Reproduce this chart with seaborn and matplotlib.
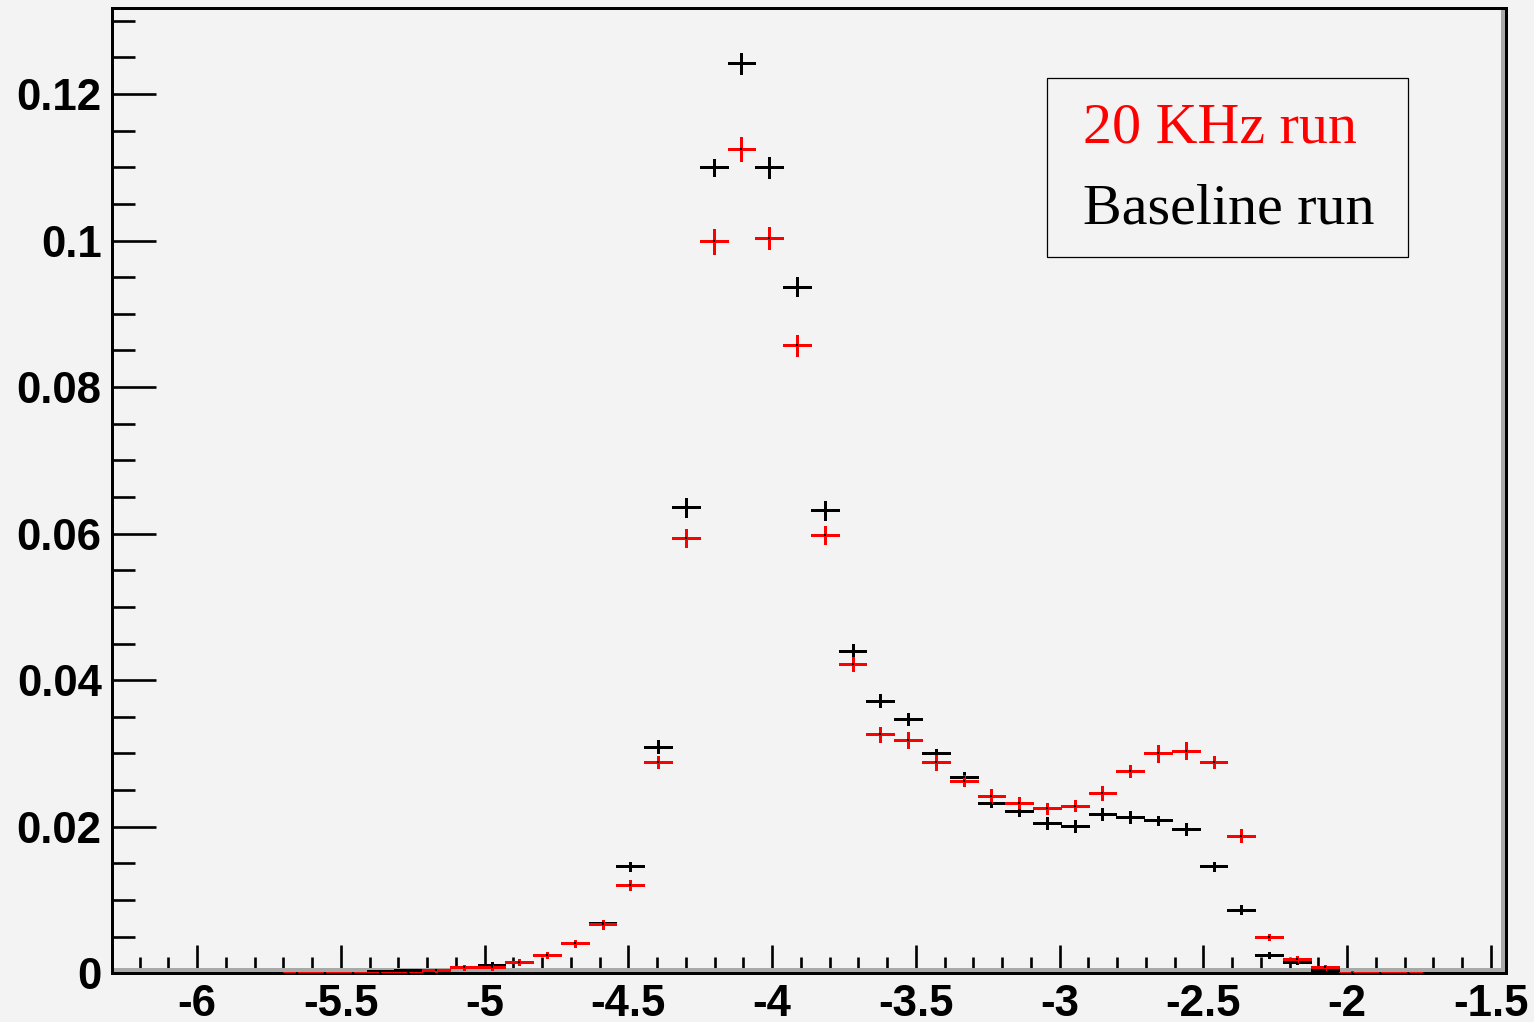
import numpy as np
import pandas as pd
import matplotlib
matplotlib.use("Agg")
import matplotlib.pyplot as plt
from matplotlib.patches import Rectangle
from matplotlib.ticker import MultipleLocator, FixedLocator, FixedFormatter
import seaborn as sns

nan = np.nan

# Histogram binning: 50 equal bins
BIN_LO, BIN_HI, N_BINS = -6.28, -1.45, 50

# Bin contents (normalised) and statistical errors, bins 0..49
baseline_vals = [nan] * 6 + [
    0.0, 0.0, 0.0, 0.0003, 0.0004, 0.0004, 0.0008, 0.0012, 0.0016, 0.0025,
    0.0042, 0.0068, 0.0146, 0.0309, 0.0636, 0.1100, 0.1242, 0.1100, 0.0937, 0.0632,
    0.0440, 0.0372, 0.0347, 0.0300, 0.0268, 0.0233, 0.0221, 0.0205, 0.0201, 0.0217,
    0.0213, 0.0209, 0.0197, 0.0146, 0.0087, 0.0025, 0.0016, 0.0004, 0.0001, 0.0,
    0.0] + [nan] * 3
baseline_errs = [nan] * 6 + [
    0.0, 0.0, 0.0, 0.0002, 0.0002, 0.0002, 0.0002, 0.0003, 0.0003, 0.0003,
    0.0004, 0.0005, 0.0006, 0.0009, 0.0013, 0.0012, 0.0014, 0.0014, 0.0013, 0.0013,
    0.0010, 0.0009, 0.0008, 0.0006, 0.0007, 0.0006, 0.0007, 0.0008, 0.0008, 0.0008,
    0.0008, 0.0006, 0.0008, 0.0006, 0.0006, 0.0004, 0.0003, 0.0002, 0.0001, 0.0,
    0.0] + [nan] * 3

khz20_vals = [nan] * 6 + [
    0.0, 0.0, 0.0, 0.0, 0.0, 0.0004, 0.0008, 0.0008, 0.0016, 0.0025,
    0.0041, 0.0067, 0.0121, 0.0288, 0.0594, 0.0999, 0.1125, 0.1003, 0.0857, 0.0598,
    0.0422, 0.0326, 0.0318, 0.0288, 0.0263, 0.0242, 0.0233, 0.0225, 0.0229, 0.0246,
    0.0276, 0.0300, 0.0304, 0.0288, 0.0188, 0.0049, 0.0020, 0.0008, 0.0, 0.0,
    0.0] + [nan] * 3
khz20_errs = [nan] * 6 + [
    0.0, 0.0, 0.0, 0.0, 0.0, 0.0002, 0.0003, 0.0003, 0.0004, 0.0004,
    0.0005, 0.0006, 0.0007, 0.0008, 0.0012, 0.0017, 0.0017, 0.0015, 0.0014, 0.0012,
    0.0010, 0.0010, 0.0011, 0.0010, 0.0008, 0.0010, 0.0008, 0.0008, 0.0008, 0.0009,
    0.0008, 0.0011, 0.0011, 0.0008, 0.0009, 0.0004, 0.0004, 0.0003, 0.0003, 0.0,
    0.0] + [nan] * 3

x_ticks = [-6, -5.5, -5, -4.5, -4, -3.5, -3, -2.5, -2, -1.5]
x_tick_labels = ["-6", "-5.5", "-5", "-4.5", "-4", "-3.5", "-3", "-2.5", "-2", "-1.5"]
y_ticks = [0, 0.02, 0.04, 0.06, 0.08, 0.10, 0.12]
y_tick_labels = ["0", "0.02", "0.04", "0.06", "0.08", "0.1", "0.12"]
legend_labels = ["20 KHz run", "Baseline run"]
legend_colors = ["#ff0000", "#000000"]

BG = "#f3f3f3"

sns.set_theme(style="ticks", rc={
    "figure.facecolor": BG,
    "axes.facecolor": BG,
    "axes.edgecolor": "black",
    "axes.unicode_minus": False,
    "lines.antialiased": False,
})
plt.rcParams["font.family"] = ["Liberation Sans", "DejaVu Sans"]

width = (BIN_HI - BIN_LO) / N_BINS
centers = BIN_LO + width * (np.arange(N_BINS) + 0.5)

df = pd.concat([
    pd.DataFrame({"x": centers, "y": baseline_vals, "err": baseline_errs, "run": "Baseline run"}),
    pd.DataFrame({"x": centers, "y": khz20_vals, "err": khz20_errs, "run": "20 KHz run"}),
]).dropna()

fig = plt.figure(figsize=(15.34, 10.22), dpi=100)
ax = fig.add_axes([0.07321, 0.04765, 0.90854, 0.94423])

lw = 2.1
for run, color in [("Baseline run", "black"), ("20 KHz run", "#ff0000")]:
    d = df[df["run"] == run]
    eb = ax.errorbar(d["x"], d["y"], yerr=d["err"], xerr=width / 2, fmt="none",
                     ecolor=color, elinewidth=lw, capsize=0, zorder=3)
    for coll in eb.lines[2]:
        coll.set_antialiased(False)

# point markers at bin centres
sns.scatterplot(data=df, x="x", y="y", color="black", marker="s", s=4.2,
                linewidth=0, legend=False, ax=ax, zorder=4)

ax.set_xlim(-6.295, -1.447)
ax.set_ylim(0, 0.1317)
ax.set_xlabel("")
ax.set_ylabel("")

ax.xaxis.set_major_locator(FixedLocator(x_ticks))
ax.xaxis.set_major_formatter(FixedFormatter(x_tick_labels))
ax.xaxis.set_minor_locator(MultipleLocator(0.1))
ax.yaxis.set_major_locator(FixedLocator(y_ticks))
ax.yaxis.set_major_formatter(FixedFormatter(y_tick_labels))
ax.yaxis.set_minor_locator(MultipleLocator(0.005))

ax.tick_params(axis="both", which="both", direction="in", width=1.9,
               color="black", top=False, right=False)
ax.tick_params(axis="x", which="major", length=20.2, pad=7.5)
ax.tick_params(axis="x", which="minor", length=11.5)
ax.tick_params(axis="y", which="major", length=31.7, pad=7.6)
ax.tick_params(axis="y", which="minor", length=16.3)
for lab in ax.get_xticklabels() + ax.get_yticklabels():
    lab.set_fontsize(31.5)
    lab.set_fontweight("bold")
    lab.set_color("black")

for sp in ax.spines.values():
    sp.set_visible(True)
    sp.set_linewidth(lw)
    sp.set_color("black")
    sp.set_antialiased(False)

# bevelled frame edge along the bottom and right
ax.plot([0, 1], [0.0034, 0.0034], transform=ax.transAxes, color="#a9a9a9",
        lw=1.7, zorder=1.2, clip_on=False, solid_capstyle="butt")
ax.plot([0.9982, 0.9982], [0, 1], transform=ax.transAxes, color="#a9a9a9",
        lw=1.7, zorder=1.2, clip_on=False, solid_capstyle="butt")

# legend box with coloured text entries
fig.patches.append(Rectangle((0.6823, 0.7482), 0.2357, 0.1751, transform=fig.transFigure,
                             facecolor=BG, edgecolor="black", linewidth=0.9, zorder=5))
for label, color, yb in zip(legend_labels, legend_colors, [0.8604, 0.7815]):
    fig.text(0.7062, yb, label, color=color, fontsize=41.8, va="baseline", ha="left",
             family=["Liberation Serif", "DejaVu Serif"], zorder=6)

fig.savefig("out.png", dpi=100, facecolor=BG)
